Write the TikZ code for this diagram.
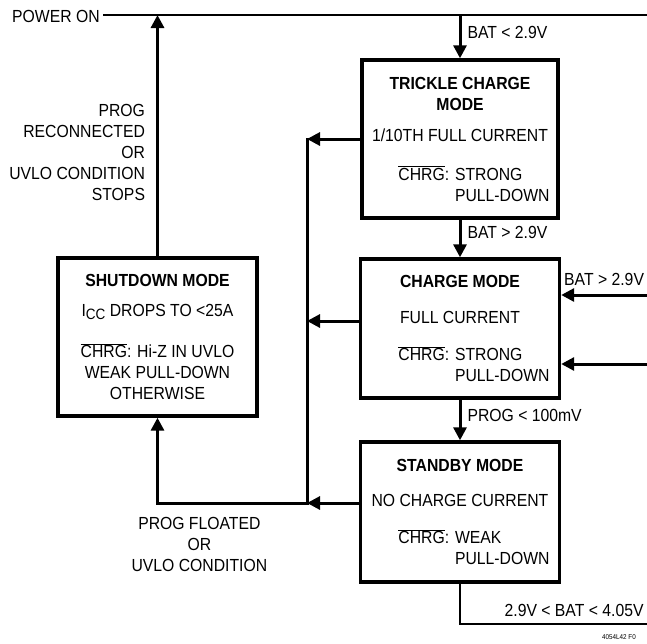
\documentclass[tikz,border=0pt]{standalone}
\usepackage{fontspec}
\setmainfont{Liberation Sans}[FakeStretch=0.9]
\usetikzlibrary{arrows.meta,positioning}

\newcommand{\ovl}[1]{$\overline{\mbox{#1}}$}
\newcommand{\hangpair}[2]{\vtop{\hbox{#1}\hbox{#2}}}

\begin{document}
\begin{tikzpicture}[x=1pt, y=-1pt,
    every node/.style={inner sep=0pt, font=\fontsize{17.5}{21}\selectfont},
    modebox/.style={draw, line width=3.4pt, align=center, minimum width=199pt},
    flow/.style={line width=3pt, -{Triangle[length=13pt,width=13pt]}},
    wire/.style={line width=3pt}]
  \useasboundingbox (0,0) rectangle (647,643);

  % the four modes
  \node[modebox, minimum width=196pt, minimum height=158pt] (trickle) at (460,139)
    {\textbf{TRICKLE CHARGE}\\\textbf{MODE}\\[10pt]1/10TH FULL CURRENT\\[18pt]
     \hspace*{28pt}\ovl{CHRG}: \hangpair{STRONG}{PULL-DOWN}};
  \node[modebox, minimum height=139pt] (charge) at (460,328.5)
    {\textbf{CHARGE MODE}\\[15pt]FULL CURRENT\\[16pt]
     \hspace*{28pt}\ovl{CHRG}: \hangpair{STRONG}{PULL-DOWN}};
  \node[modebox, minimum height=140pt] (standby) at (460,512)
    {\textbf{STANDBY MODE}\\[14pt]NO CHARGE CURRENT\\[16pt]
     \hspace*{28pt}\ovl{CHRG}: \hangpair{WEAK}{PULL-DOWN}};
  \node[modebox, minimum height=158pt] (shutdown) at (157.5,337)
    {\textbf{SHUTDOWN MODE}\\[9pt]I\raisebox{-3pt}{\fontsize{15}{15}\selectfont CC} DROPS TO <25A\\[20pt]
     \ovl{CHRG}: Hi-Z IN UVLO\\WEAK PULL-DOWN\\OTHERWISE};

  % power on rail
  \node[anchor=west] (power) at (12,16.5) {POWER ON};
  \coordinate (pwr) at (103,15);
  \coordinate (pwrend) at (647,15);
  \draw[wire, line width=2.6pt] (pwr) -- (pwrend);

  \draw[flow] (trickle.north |- pwr) -- node[right=6pt, pos=.4] {BAT < 2.9V} (trickle.north);
  \draw[flow] (trickle) -- node[right=6pt, pos=.34] {BAT > 2.9V} (charge);
  \draw[flow] (charge) -- node[right=6pt, pos=.38] {PROG < 100mV} (standby);

  % inputs from the right
  \coordinate (batA) at (647,295);
  \coordinate (batB) at (647,364);
  \draw[flow] (batA) -- node[above=8pt] {BAT > 2.9V} (batA -| charge.east);
  \draw[flow] (batB) -- (batB -| charge.east);

  % bus to shutdown
  \coordinate (bustop) at (307,139);
  \coordinate (busbot) at (307,503);
  \coordinate (corner) at (shutdown.south |- busbot);
  \coordinate (chargeout) at ([yshift=7.5pt]charge.west);
  \coordinate (standbyout) at ([yshift=9pt]standby.west);
  \draw[flow] (trickle.west) -- (bustop);
  \draw[flow] (chargeout) -- (chargeout -| bustop);
  \draw[flow] (standbyout) -- (standbyout -| bustop);
  \draw[flow] ([yshift=1.5pt]bustop) -- (busbot)
    -- node[below=13pt, pos=.72, align=center] {PROG FLOATED\\OR\\UVLO CONDITION} (corner)
    -- (shutdown.south);

  \draw[flow] (shutdown.north)
    -- node[left=11pt, pos=.43, align=right] {PROG\\RECONNECTED\\OR\\UVLO CONDITION\\STOPS}
    (shutdown.north |- pwr);

  % standby exit
  \coordinate (out) at (647,624);
  \draw[wire, line width=2.6pt] (standby) -- (standby.south |- out)
    -- node[above=6pt, pos=.61] {2.9V < BAT < 4.05V} (out);

  \node[anchor=west, font=\fontsize{7}{8}\selectfont] (fig) at (602,637.5) {4054L42 F0};
\end{tikzpicture}
\end{document}
